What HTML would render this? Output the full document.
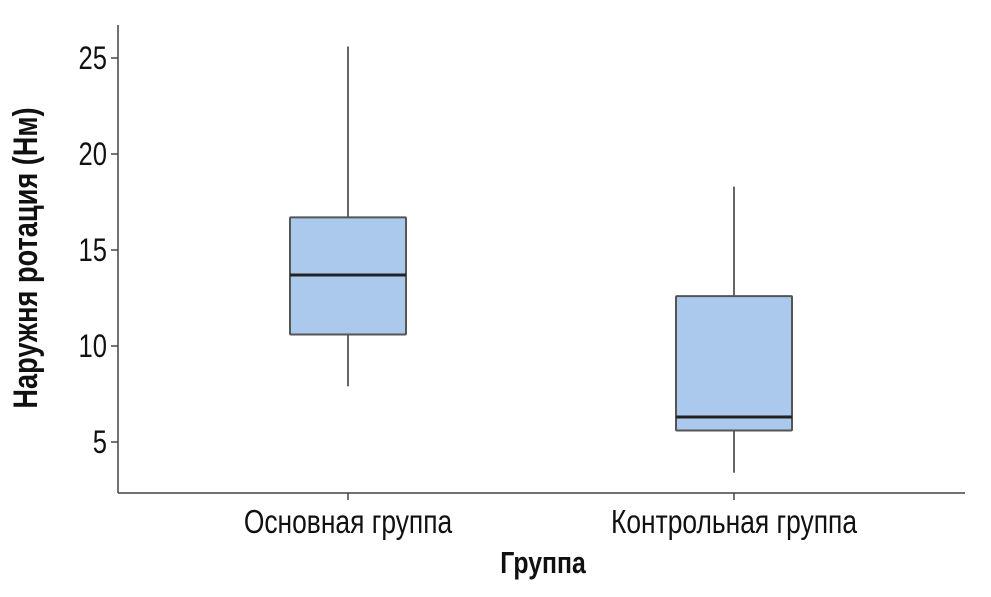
<!DOCTYPE html>
<html><head><meta charset="utf-8"><style>
body{margin:0;background:#fff;}
svg text{font-family:"Liberation Sans",sans-serif;fill:#111;}
</style></head><body>
<svg id="chart" width="991" height="592" viewBox="0 0 991 592" xmlns="http://www.w3.org/2000/svg">
<g id="axes"></g><g id="boxes"></g>
</svg>
<script>
const categories=["Основная группа","Контрольная группа"];
const whiskerLow=[7.9,3.4];
const q1=[10.6,5.6];
const median=[13.7,6.3];
const q3=[16.7,12.6];
const whiskerHigh=[25.6,18.3];
const yTicks=[5,10,15,20,25];
const NS="http://www.w3.org/2000/svg";
const y=v=>442-(v-5)*19.2;
const x=i=>348+i*386;
const bw=116;
const S=0.8;
function mk(tag,attrs,parent,txt){const e=document.createElementNS(NS,tag);for(const k in attrs)e.setAttribute(k,attrs[k]);if(txt!==undefined)e.textContent=txt;parent.appendChild(e);return e;}
const ax=document.getElementById('axes'),bx=document.getElementById('boxes');
let e=mk('line',{x1:118,y1:25,x2:118,y2:493,stroke:'#444','stroke-width':1.5},ax);

e=mk('line',{x1:118,y1:493,x2:965,y2:493,stroke:'#444','stroke-width':1.5},ax);

yTicks.forEach(t=>{
  let l=mk('line',{x1:111,y1:y(t),x2:118,y2:y(t),stroke:'#444','stroke-width':1.5},ax);
  
  let tx=mk('text',{x:0,y:0,'text-anchor':'end','font-size':32,transform:`translate(107,${y(t)+11}) scale(${S},1)`},ax,String(t));
  
});
categories.forEach((c,i)=>{
  let l=mk('line',{x1:x(i),y1:493,x2:x(i),y2:500,stroke:'#444','stroke-width':1.5},ax);
  
  let t=mk('text',{x:0,y:0,'text-anchor':'middle','font-size':33,transform:`translate(${x(i)},533) scale(${S},1)`},ax,c);
  
  let g=mk('g',{},bx);
  
  mk('line',{x1:x(i),y1:y(whiskerHigh[i]),x2:x(i),y2:y(q3[i]),stroke:'#555','stroke-width':1.8},g);
  mk('line',{x1:x(i),y1:y(q1[i]),x2:x(i),y2:y(whiskerLow[i]),stroke:'#555','stroke-width':1.8},g);
  mk('rect',{x:x(i)-bw/2,y:y(q3[i]),width:bw,height:y(q1[i])-y(q3[i]),fill:'#abc9ec',stroke:'#555','stroke-width':2,rx:1},g);
  mk('line',{x1:x(i)-bw/2,y1:y(median[i]),x2:x(i)+bw/2,y2:y(median[i]),stroke:'#222','stroke-width':3},g);
});
e=mk('text',{x:0,y:0,'text-anchor':'middle','font-size':31,'font-weight':'bold',transform:`translate(543,573) scale(${S},1)`},ax,'Группа');

e=mk('text',{x:0,y:0,'text-anchor':'middle','font-size':34,'font-weight':'bold',transform:`translate(37,258) rotate(-90) scale(${S},1)`},ax,'Наружня ротация (Нм)');

</script>
</body></html>
